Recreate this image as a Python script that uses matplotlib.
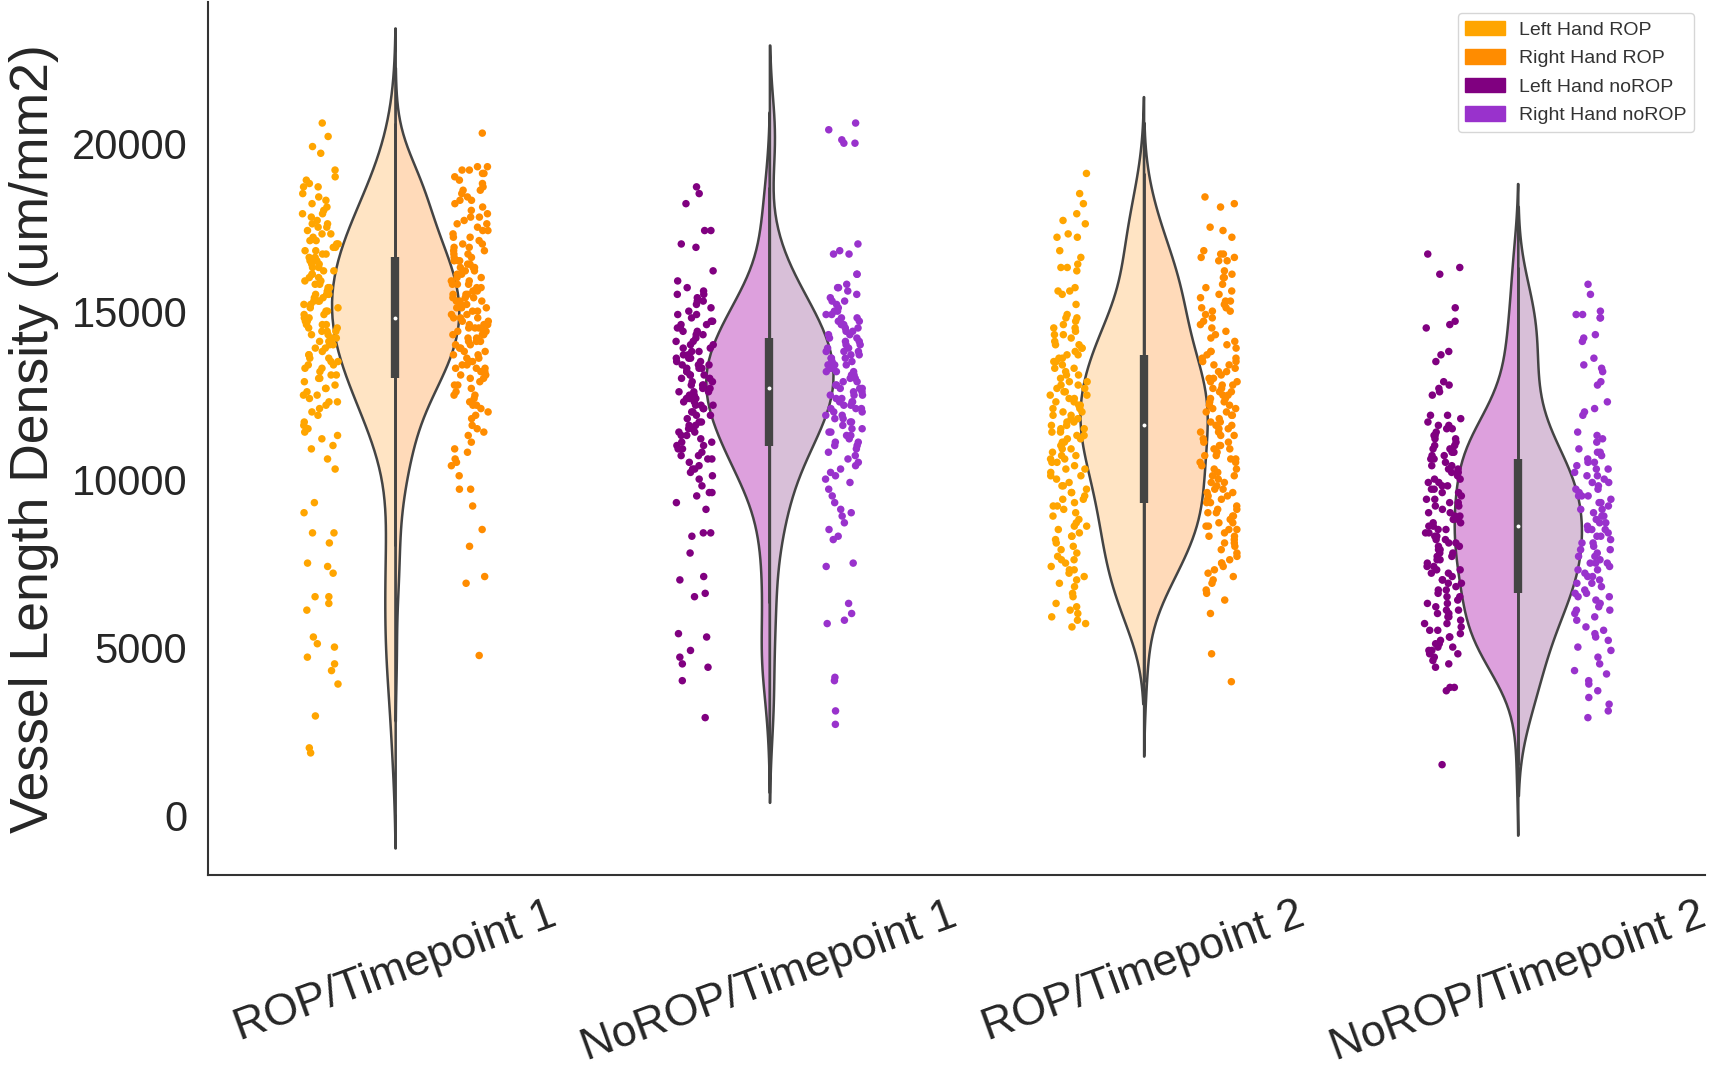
import numpy as np
import pandas as pd
import matplotlib
matplotlib.use("Agg")
import matplotlib.pyplot as plt
from matplotlib.patches import Patch
import seaborn as sns

groups = ["ROP/Timepoint 1", "NoROP/Timepoint 1", "ROP/Timepoint 2", "NoROP/Timepoint 2"]
sides = ["Left", "Right"]

# vessel length density per image (thousands of um/mm2)
rop_t1_left = [
    20.6, 20.2, 19.9, 19.7, 19.2, 19.0,
    18.9, 18.8, 18.7, 18.7, 18.5, 18.4, 18.3, 18.2, 18.1, 18.0,
    17.9, 17.9, 17.8, 17.7, 17.6, 17.6, 17.5, 17.4, 17.3, 17.3, 17.2, 17.1, 17.1, 17.0, 17.0, 17.5,
    16.9, 16.9, 16.8, 16.8, 16.7, 16.7, 16.6, 16.5, 16.5, 16.4, 16.4, 16.3, 16.3, 16.2, 16.2, 16.1,
    16.1, 16.0, 16.0, 16.6,
    15.9, 15.9, 15.8, 15.8, 15.7, 15.7, 15.6, 15.6, 15.5, 15.5, 15.4, 15.4, 15.3, 15.3, 15.2, 15.2,
    15.1, 15.1, 15.0, 15.0, 15.5, 15.3,
    14.9, 14.9, 14.8, 14.8, 14.7, 14.7, 14.6, 14.6, 14.5, 14.5, 14.4, 14.4, 14.3, 14.3, 14.2, 14.2,
    14.1, 14.1, 14.0, 14.0, 14.6, 14.4,
    13.9, 13.9, 13.8, 13.7, 13.7, 13.6, 13.5, 13.5, 13.4, 13.3, 13.3, 13.2, 13.1, 13.1, 13.0, 13.0,
    13.6, 13.4,
    12.9, 12.8, 12.7, 12.6, 12.5, 12.5, 12.4, 12.3, 12.2, 12.1, 12.0, 12.7, 12.3,
    11.9, 11.7, 11.6, 11.4, 11.3, 11.2, 11.0, 11.5,
    10.9, 10.6, 10.3, 9.3, 9.0, 8.4, 8.4, 8.1, 7.5, 7.4, 7.2, 6.5, 6.5, 6.3, 6.1,
    5.3, 5.1, 5.0, 4.7, 4.5, 4.3, 3.9, 2.95, 2.0, 1.85,
]
rop_t1_right = [
    20.3, 19.3, 19.3, 19.2, 19.2, 19.1, 19.1, 19.0,
    18.9, 18.8, 18.7, 18.6, 18.5, 18.4, 18.3, 18.2, 18.1, 18.0, 18.6, 18.3,
    17.9, 17.8, 17.7, 17.6, 17.5, 17.4, 17.3, 17.2, 17.1, 17.0, 17.8, 17.6, 17.4, 17.2, 17.0,
    16.9, 16.9, 16.8, 16.8, 16.7, 16.7, 16.6, 16.6, 16.5, 16.5, 16.4, 16.4, 16.3, 16.3, 16.2, 16.2,
    16.1, 16.1, 16.0, 16.0, 16.5, 16.3,
    15.9, 15.9, 15.8, 15.8, 15.8, 15.7, 15.7, 15.6, 15.6, 15.5, 15.5, 15.5, 15.4, 15.4, 15.3, 15.3,
    15.3, 15.2, 15.2, 15.1, 15.1, 15.1, 15.0, 15.0, 15.6, 15.4,
    14.9, 14.9, 14.8, 14.8, 14.8, 14.7, 14.7, 14.6, 14.6, 14.5, 14.5, 14.5, 14.4, 14.4, 14.3, 14.3,
    14.3, 14.2, 14.2, 14.1, 14.1, 14.1, 14.0, 14.0, 14.6, 14.4,
    13.9, 13.9, 13.8, 13.8, 13.7, 13.7, 13.6, 13.6, 13.5, 13.5, 13.4, 13.4, 13.3, 13.3, 13.2, 13.2,
    13.1, 13.1, 13.0, 13.0, 13.5, 13.3,
    12.9, 12.8, 12.7, 12.6, 12.5, 12.4, 12.3, 12.2, 12.1, 12.0, 12.8, 12.5, 12.2,
    11.9, 11.8, 11.6, 11.4, 11.3, 11.1, 11.5,
    10.9, 10.8, 10.6, 10.5, 10.4, 10.1, 9.7, 9.7, 9.2, 8.5, 8.0, 7.1, 6.9, 4.75,
]
norop_t1_left = [
    18.7, 18.5, 18.2, 17.4, 17.4, 17.0, 16.9, 16.2, 15.9,
    15.7, 15.6, 15.5, 15.5, 15.4, 15.3, 15.2, 15.1, 15.0, 15.3,
    14.9, 14.9, 14.8, 14.7, 14.7, 14.6, 14.5, 14.5, 14.4, 14.3, 14.3, 14.2, 14.1, 14.1, 14.0, 14.0,
    14.6, 14.4,
    13.9, 13.9, 13.8, 13.8, 13.7, 13.7, 13.6, 13.6, 13.5, 13.5, 13.4, 13.4, 13.3, 13.3, 13.2, 13.2,
    13.1, 13.1, 13.0, 13.0, 13.6, 13.4, 13.3, 13.1,
    12.9, 12.9, 12.8, 12.8, 12.7, 12.7, 12.6, 12.6, 12.5, 12.5, 12.4, 12.4, 12.3, 12.3, 12.2, 12.2,
    12.1, 12.1, 12.0, 12.0, 12.6, 12.4, 12.8, 12.2,
    11.9, 11.9, 11.8, 11.7, 11.7, 11.6, 11.5, 11.5, 11.4, 11.3, 11.3, 11.2, 11.1, 11.1, 11.0, 11.0,
    11.6, 11.4,
    10.9, 10.9, 10.8, 10.7, 10.6, 10.6, 10.5, 10.4, 10.3, 10.3, 10.2, 10.1, 10.0, 10.7,
    9.8, 9.6, 9.6, 9.5, 9.3, 9.1, 8.4, 8.4, 8.3, 7.8, 7.1, 7.0, 6.6, 6.5,
    5.4, 5.3, 4.9, 4.7, 4.5, 4.4, 4.0, 2.9,
]
norop_t1_right = [
    20.6, 20.4, 20.1, 20.0, 20.0, 17.0, 16.8, 16.7, 16.7, 16.1, 16.1,
    15.8, 15.7, 15.7, 15.6, 15.4, 15.3, 15.2, 15.1, 15.0, 15.5, 15.3, 15.0,
    14.9, 14.9, 14.8, 14.8, 14.7, 14.6, 14.6, 14.5, 14.5, 14.4, 14.3, 14.3, 14.2, 14.2, 14.1, 14.0,
    14.0, 14.7, 14.4, 14.1,
    13.9, 13.9, 13.8, 13.8, 13.7, 13.7, 13.6, 13.6, 13.5, 13.5, 13.4, 13.4, 13.3, 13.3, 13.2, 13.2,
    13.1, 13.1, 13.0, 13.0, 13.6, 13.4, 13.2, 13.8,
    12.9, 12.9, 12.8, 12.8, 12.7, 12.7, 12.6, 12.6, 12.5, 12.5, 12.4, 12.4, 12.3, 12.3, 12.2, 12.2,
    12.1, 12.1, 12.0, 12.0, 12.5, 12.7, 12.3, 12.1,
    11.9, 11.9, 11.8, 11.7, 11.7, 11.6, 11.5, 11.5, 11.4, 11.3, 11.3, 11.2, 11.1, 11.1, 11.0, 11.0,
    11.8, 11.4,
    10.9, 10.8, 10.7, 10.6, 10.5, 10.4, 10.3, 10.2, 10.1, 10.0,
    9.9, 9.7, 9.5, 9.3, 9.1, 9.0, 8.9, 8.7, 8.5, 8.3, 8.2,
    7.5, 7.4, 6.3, 6.0, 5.8, 5.7, 4.1, 4.0, 3.1, 2.7,
]
rop_t2_left = [
    19.1, 18.5, 18.2, 17.9, 17.7, 17.6, 17.3, 17.2, 17.2, 16.8, 16.6, 16.4, 16.3, 16.3, 16.2,
    15.7, 15.6, 15.6, 15.5, 15.2,
    14.9, 14.8, 14.7, 14.6, 14.5, 14.4, 14.3, 14.2, 14.1, 14.0, 14.8, 14.5, 14.3, 14.0,
    13.9, 13.8, 13.7, 13.6, 13.5, 13.4, 13.3, 13.2, 13.1, 13.0, 13.9, 13.7, 13.5, 13.3, 13.1, 13.6,
    12.9, 12.9, 12.8, 12.8, 12.7, 12.7, 12.6, 12.6, 12.5, 12.5, 12.4, 12.4, 12.3, 12.3, 12.2, 12.2,
    12.1, 12.1, 12.0, 12.0,
    11.9, 11.9, 11.8, 11.8, 11.7, 11.7, 11.6, 11.6, 11.5, 11.5, 11.4, 11.4, 11.3, 11.3, 11.2, 11.2,
    11.1, 11.1, 11.0, 11.0,
    10.9, 10.9, 10.8, 10.7, 10.7, 10.6, 10.5, 10.5, 10.4, 10.3, 10.3, 10.2, 10.1, 10.1, 10.0, 10.6,
    9.9, 9.8, 9.8, 9.7, 9.6, 9.5, 9.4, 9.4, 9.3, 9.2, 9.1, 9.0, 9.6, 9.2,
    8.9, 8.8, 8.7, 8.6, 8.5, 8.4, 8.3, 8.2, 8.1, 8.0, 8.6, 8.3,
    7.9, 7.8, 7.7, 7.6, 7.5, 7.4, 7.3, 7.2, 7.1, 7.0, 7.6, 7.3,
    6.9, 6.8, 6.6, 6.5, 6.3, 6.2, 6.1, 6.0, 5.9, 5.8, 5.7, 5.6,
]
rop_t2_right = [
    18.4, 18.2, 18.1, 17.5, 17.4, 17.2, 16.8, 16.7, 16.7, 16.6, 16.6, 16.5, 16.5, 16.2, 16.1,
    16.0, 16.0, 15.8, 15.7, 15.6, 15.5,
    15.4, 15.3, 15.3, 15.2, 15.1, 15.1, 15.0, 15.0,
    14.9, 14.8, 14.7, 14.6, 14.5, 14.4, 14.3, 14.2, 14.1, 14.0,
    13.9, 13.8, 13.7, 13.6, 13.5, 13.4, 13.3, 13.2, 13.1, 13.0, 13.8, 13.6, 13.4, 13.2, 13.0, 13.5,
    12.9, 12.9, 12.8, 12.8, 12.7, 12.7, 12.6, 12.6, 12.5, 12.5, 12.4, 12.4, 12.3, 12.3, 12.2, 12.2,
    12.1, 12.1, 12.0, 12.0,
    11.9, 11.9, 11.8, 11.7, 11.7, 11.6, 11.5, 11.5, 11.4, 11.3, 11.3, 11.2, 11.1, 11.1, 11.0, 11.0,
    11.6, 11.4,
    10.9, 10.9, 10.8, 10.7, 10.7, 10.6, 10.5, 10.5, 10.4, 10.3, 10.3, 10.2, 10.1, 10.1, 10.0, 10.6,
    9.9, 9.9, 9.8, 9.7, 9.7, 9.6, 9.5, 9.5, 9.4, 9.3, 9.3, 9.2, 9.1, 9.1, 9.0, 9.0, 9.6, 9.4,
    8.9, 8.9, 8.8, 8.7, 8.7, 8.6, 8.5, 8.5, 8.4, 8.3, 8.3, 8.2, 8.1, 8.1, 8.0, 8.6,
    7.9, 7.8, 7.7, 7.6, 7.5, 7.4, 7.3, 7.2, 7.1, 7.5,
    7.0, 6.9, 6.7, 6.6, 6.4, 6.0, 4.8, 3.97,
]
norop_t2_left = [
    16.7, 16.3, 16.1, 15.1, 14.7, 14.6, 14.5, 13.8, 13.7, 13.5, 12.9, 12.8, 12.7, 12.6, 12.5,
    11.9, 11.9, 11.8, 11.7, 11.6, 11.5, 11.5, 11.4, 11.3, 11.2, 11.2, 11.1, 11.0, 11.0, 11.6, 11.3,
    10.9, 10.9, 10.8, 10.8, 10.7, 10.6, 10.6, 10.5, 10.4, 10.4, 10.3, 10.2, 10.2, 10.1, 10.0, 10.0,
    10.7, 10.3,
    9.9, 9.9, 9.8, 9.8, 9.7, 9.6, 9.6, 9.5, 9.4, 9.4, 9.3, 9.2, 9.2, 9.1, 9.0, 9.0, 9.7, 9.3,
    8.9, 8.9, 8.8, 8.8, 8.7, 8.7, 8.6, 8.6, 8.5, 8.5, 8.4, 8.4, 8.3, 8.3, 8.2, 8.2, 8.1, 8.1,
    8.0, 8.0,
    7.9, 7.9, 7.8, 7.8, 7.7, 7.6, 7.6, 7.5, 7.4, 7.4, 7.3, 7.2, 7.2, 7.1, 7.0, 7.0, 7.7, 7.3,
    6.9, 6.9, 6.8, 6.7, 6.7, 6.6, 6.5, 6.5, 6.4, 6.3, 6.3, 6.2, 6.1, 6.1, 6.0, 6.0,
    5.9, 5.9, 5.8, 5.7, 5.7, 5.6, 5.5, 5.5, 5.4, 5.3, 5.3, 5.2, 5.1, 5.1, 5.0, 5.0,
    4.9, 4.9, 4.8, 4.8, 4.7, 4.6, 4.5, 4.4, 3.8, 3.8, 3.7, 1.5,
]
norop_t2_right = [
    15.8, 15.5, 15.0, 14.9, 14.9, 14.8, 14.8, 14.3, 14.2, 14.1, 13.6, 13.4, 13.3, 13.2, 12.9,
    12.8, 12.3, 12.1, 12.0, 11.9, 11.4, 11.3, 11.2, 11.1,
    10.9, 10.8, 10.7, 10.6, 10.5, 10.4, 10.3, 10.2, 10.1, 10.0, 10.8, 10.5, 10.3, 10.1,
    9.9, 9.9, 9.8, 9.7, 9.7, 9.6, 9.5, 9.5, 9.4, 9.3, 9.3, 9.2, 9.1, 9.1, 9.0, 9.5,
    8.9, 8.9, 8.8, 8.7, 8.7, 8.6, 8.5, 8.5, 8.4, 8.3, 8.3, 8.2, 8.1, 8.1, 8.0, 8.5,
    7.9, 7.9, 7.8, 7.7, 7.7, 7.6, 7.5, 7.5, 7.4, 7.3, 7.3, 7.2, 7.1, 7.1, 7.0, 7.5,
    6.9, 6.9, 6.8, 6.7, 6.6, 6.5, 6.5, 6.4, 6.3, 6.2, 6.1, 6.1, 6.0, 6.6,
    5.9, 5.8, 5.6, 5.5, 5.4, 5.3, 5.2, 5.0,
    4.9, 4.7, 4.5, 4.3, 4.2, 4.0, 3.9, 3.7, 3.5, 3.3, 3.1, 2.9,
]

left_data = [rop_t1_left, norop_t1_left, rop_t2_left, norop_t2_left]
right_data = [rop_t1_right, norop_t1_right, rop_t2_right, norop_t2_right]

point_colors = [("#FFA500", "#FF8C00"), ("#800080", "#9932CC"),
                ("#FFA500", "#FF8C00"), ("#800080", "#9932CC")]
violin_colors = [("#FFE4C4", "#FFDAB9"), ("#DDA0DD", "#D8BFD8"),
                 ("#FFE4C4", "#FFDAB9"), ("#DDA0DD", "#D8BFD8")]
legend_labels = ["Left Hand ROP", "Right Hand ROP", "Left Hand noROP", "Right Hand noROP"]
legend_colors = ["#FFA500", "#FF8C00", "#800080", "#9932CC"]

rows = []
for g, lv, rv in zip(groups, left_data, right_data):
    rows += [(g, "Left", v * 1000) for v in lv]
    rows += [(g, "Right", v * 1000) for v in rv]
df = pd.DataFrame(rows, columns=["group", "side", "vld"])

sns.set_style("white")
plt.rcParams["font.family"] = ["Liberation Sans", "DejaVu Sans"]

fig = plt.figure(figsize=(17.14, 10.67), dpi=100)
ax = fig.add_axes([0.1214, 0.1799, 0.8733, 0.818])

sns.violinplot(data=df, x="group", y="vld", hue="side", order=groups, hue_order=sides,
               split=True, inner=None, width=0.34, cut=2, density_norm="width",
               linewidth=1.8, linecolor="#444444", saturation=1,
               palette=["#FFE4C4", "#FFDAB9"], legend=False, ax=ax)

# recolour each half by its group
for coll in ax.collections:
    xs = coll.get_paths()[0].vertices[:, 0]
    xm = xs.mean()
    i = int(round(xm))
    coll.set_facecolor(violin_colors[i][0 if xm < i else 1])

# box inside the violin, from both hands together
for i, g in enumerate(groups):
    vals = df.loc[df.group == g, "vld"].to_numpy()
    q1, med, q3 = np.percentile(vals, [25, 50, 75])
    iqr = q3 - q1
    lo = vals[vals >= q1 - 1.5 * iqr].min()
    hi = vals[vals <= q3 + 1.5 * iqr].max()
    ax.vlines(i, lo, hi, color="#444444", lw=2, zorder=3)
    ax.vlines(i, q1, q3, color="#444444", lw=6, zorder=3)
    ax.scatter([i], [med], s=8, color="white", zorder=4, linewidths=0)

np.random.seed(3)
for i, g in enumerate(groups):
    sub = df[df.group == g]
    sns.stripplot(data=sub, x="group", y="vld", hue="side", order=groups, hue_order=sides,
                  dodge=True, jitter=True, size=5.4, linewidth=0,
                  palette=list(point_colors[i]), legend=False, ax=ax)

ax.set_xlim(-0.5, 3.5)
ax.set_ylim(-1786, 24196)
ax.set_yticks([0, 5000, 10000, 15000, 20000])
ax.set_xlabel("")
ax.set_ylabel("Vessel Length Density (um/mm2)", fontsize=38.5, labelpad=9, color="#262626")
ax.tick_params(axis="y", labelsize=30, length=0, pad=15, labelcolor="#262626")
ax.tick_params(axis="x", labelsize=32, length=0, pad=14, labelrotation=20, labelcolor="#262626")
sns.despine(ax=ax)
for s in ("left", "bottom"):
    ax.spines[s].set_color("#333333")
    ax.spines[s].set_linewidth(1.5)

handles = [Patch(facecolor=c, edgecolor=c, label=l) for c, l in zip(legend_colors, legend_labels)]
leg = ax.legend(handles=handles, loc="upper right", fontsize=14, handlelength=2.05,
                handleheight=0.77, handletextpad=0.7, labelspacing=0.54, borderaxespad=0.55,
                frameon=True, fancybox=True)
leg.get_frame().set_edgecolor("#cccccc")
for t in leg.get_texts():
    t.set_color("#333333")

fig.savefig("out.png", dpi=100)
